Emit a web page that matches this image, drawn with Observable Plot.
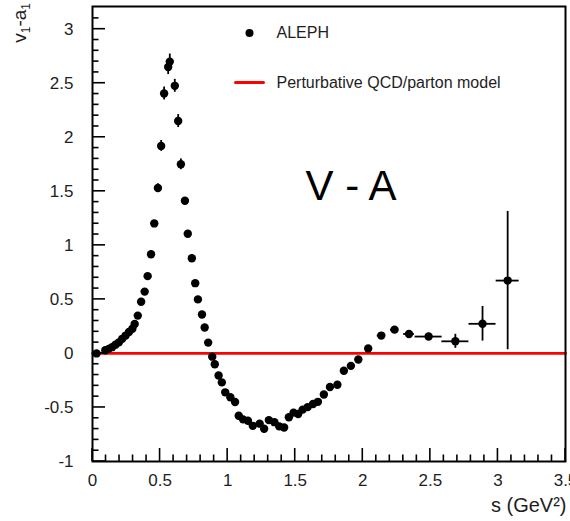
<!DOCTYPE html>
<html><head><meta charset="utf-8">
<script src="https://cdn.jsdelivr.net/npm/d3@7"></script>
<script src="https://cdn.jsdelivr.net/npm/@observablehq/plot@0.6"></script>
<style>
html,body{margin:0;padding:0;background:#fff;}
#chart{position:relative;width:570px;height:521px;overflow:hidden;}
</style></head><body><div id="chart"></div>
<script>
// ALEPH V-A spectral function
const sValues = [0.030,0.095,0.120,0.145,0.170,0.195,0.220,0.245,0.270,0.295,0.312,0.335,0.360,0.386,0.408,0.433,0.457,0.484,0.508,0.530,0.560,0.572,0.609,0.634,0.654,0.684,0.705,0.735,0.760,0.780,0.810,0.830,0.856,0.886,0.905,0.933,0.957,0.982,1.020,1.055,1.082,1.114,1.150,1.186,1.237,1.270,1.305,1.346,1.382,1.418,1.453,1.488,1.522,1.555,1.592,1.632,1.668,1.712,1.757,1.812,1.860,1.912,1.967,2.040,2.137,2.235,2.342,2.487,2.685,2.886,3.072];
const vValues = [0.000,0.030,0.042,0.058,0.080,0.102,0.135,0.165,0.198,0.228,0.272,0.350,0.478,0.572,0.715,0.918,1.203,1.530,1.920,2.405,2.650,2.700,2.476,2.150,1.750,1.413,1.108,0.880,0.650,0.500,0.360,0.240,0.100,-0.030,-0.100,-0.204,-0.268,-0.360,-0.405,-0.450,-0.577,-0.610,-0.623,-0.670,-0.650,-0.697,-0.617,-0.636,-0.675,-0.685,-0.590,-0.548,-0.560,-0.520,-0.497,-0.468,-0.448,-0.380,-0.310,-0.290,-0.160,-0.115,-0.056,0.045,0.165,0.220,0.180,0.156,0.112,0.274,0.674];
const vErrors = [0,0,0,0,0,0,0,0,0,0,0,0,0,0,0,0,0,0.04,0.05,0.06,0.07,0.07,0.06,0.06,0.05,0.03,0,0,0,0,0,0,0,0,0,0,0,0,0,0,0,0,0,0,0,0,0,0,0,0,0,0,0,0,0,0,0,0,0,0,0,0,0,0.02,0.02,0.02,0.025,0.03,0.065,0.16,0.64];
const sErrors = [0,0,0,0,0,0,0,0,0,0,0,0,0,0,0,0,0,0,0,0,0,0,0,0,0,0,0,0,0,0,0,0,0,0,0,0,0,0,0,0,0,0,0,0,0,0,0,0,0,0,0,0,0,0,0,0,0,0,0,0,0,0,0,0.02,0.03,0.03,0.04,0.10,0.10,0.10,0.085];

// Perturbative QCD / parton model prediction: v1 - a1 = 0
const pqcdS = [0, 3.5];
const pqcdV = [0, 0];

// axes
const xMajorTicks = [0, 0.5, 1, 1.5, 2, 2.5, 3, 3.5];
const yMajorTicks = [-1, -0.5, 0, 0.5, 1, 1.5, 2, 2.5, 3];
const xMinorTicks = [0.1,0.2,0.3,0.4,0.6,0.7,0.8,0.9,1.1,1.2,1.3,1.4,1.6,1.7,1.8,1.9,2.1,2.2,2.3,2.4,2.6,2.7,2.8,2.9,3.1,3.2,3.3,3.4];
const yMinorTicks = [-0.9,-0.8,-0.7,-0.6,-0.4,-0.3,-0.2,-0.1,0.1,0.2,0.3,0.4,0.6,0.7,0.8,0.9,1.1,1.2,1.3,1.4,1.6,1.7,1.8,1.9,2.1,2.2,2.3,2.4,2.6,2.7,2.8,2.9,3.1];
const xDomain = [0, 3.5];
const yDomain = [-1, 3.21];
const legendLabels = ["ALEPH", "Perturbative QCD/parton model"];
const annotation = "V - A";
const xTitle = "s (GeV²)";

const aleph = sValues.map((s, i) => ({s, v: vValues[i], ey: vErrors[i], ex: sErrors[i]}));
const pqcd = pqcdS.map((s, i) => ({s, v: pqcdV[i]}));

const FONT = "'Liberation Sans', Arial, Helvetica, sans-serif";
const TXT = "#1e1e1e";
const W = 570, H = 521, ML = 92, MR = 5, MT = 6, MB = 60;
const FW = W - ML - MR, FH = H - MT - MB;
const MAJ = 13, MIN = 6.5;
const stick = {draw(ctx, l) { ctx.moveTo(0, 0); ctx.lineTo(0, -l); }};

const plot = Plot.plot({
  width: W, height: H,
  marginLeft: ML, marginRight: MR, marginTop: MT, marginBottom: MB,
  style: {fontFamily: FONT, fontSize: "17px", background: "white", overflow: "visible"},
  x: {domain: xDomain, label: null, axis: null},
  y: {domain: yDomain, label: null, axis: null},
  marks: [
    // tick labels
    Plot.text(xMajorTicks, {x: d => d, frameAnchor: "bottom", dy: 19, text: d => String(d), textAnchor: "middle", lineAnchor: "middle", fontSize: 17, fill: TXT}),
    Plot.text(yMajorTicks, {y: d => d, frameAnchor: "left", dx: -19, text: d => String(d), textAnchor: "end", lineAnchor: "middle", fontSize: 17, fill: TXT}),
    Plot.line(pqcd, {x: "s", y: "v", stroke: "#ff0000", strokeWidth: 2.6}),
    Plot.ruleX(aleph.filter(d => d.ey > 0), {x: "s", y1: d => d.v - d.ey, y2: d => d.v + d.ey, stroke: "black", strokeWidth: 1.8}),
    Plot.ruleY(aleph.filter(d => d.ex > 0), {y: "v", x1: d => d.s - d.ex, x2: d => d.s + d.ex, stroke: "black", strokeWidth: 1.8}),
    Plot.dot(aleph, {x: "s", y: "v", r: 4.2, fill: "black"}),
    Plot.frame({stroke: "black", strokeWidth: 2}),
    // legend
    Plot.dot([legendLabels[0]], {frameAnchor: "top-left", dx: 157, dy: 26.5, r: 4, fill: "black"}),
    Plot.text([legendLabels[0]], {frameAnchor: "top-left", dx: 184, dy: 26.5, text: d => d, textAnchor: "start", lineAnchor: "middle", fontSize: 16, fill: TXT}),
    Plot.vector([legendLabels[1]], {frameAnchor: "top-left", dx: 143, dy: 76, length: 28, rotate: 90, anchor: "start", stroke: "#ff0000", strokeWidth: 3, shape: stick}),
    Plot.text([legendLabels[1]], {frameAnchor: "top-left", dx: 184, dy: 76, text: d => d, textAnchor: "start", lineAnchor: "middle", fontSize: 16, fill: TXT}),
    // annotation
    Plot.text([annotation], {frameAnchor: "top-left", dx: 213, dy: 180, text: d => d, textAnchor: "start", lineAnchor: "middle", fontSize: 42, fill: "black"}),
    // x title
    Plot.text([xTitle], {frameAnchor: "bottom-right", dx: 1, dy: 44, text: d => d, textAnchor: "end", lineAnchor: "middle", fontSize: 20, fill: TXT})
  ]
});

const svg = d3.select(plot);

// inward ticks, positioned with Plot's own scales
const xs = plot.scale("x"), ys = plot.scale("y");
const tg = svg.append("g").attr("stroke", "black").attr("stroke-width", 1.6).attr("fill", "none");
const bottom = H - MB;
xMinorTicks.forEach(v => { const px = xs.apply(v); tg.append("line").attr("x1", px).attr("x2", px).attr("y1", bottom).attr("y2", bottom - MIN); });
xMajorTicks.forEach(v => { const px = xs.apply(v); tg.append("line").attr("x1", px).attr("x2", px).attr("y1", bottom).attr("y2", bottom - MAJ); });
yMinorTicks.forEach(v => { const py = ys.apply(v); tg.append("line").attr("x1", ML).attr("x2", ML + MIN).attr("y1", py).attr("y2", py); });
yMajorTicks.forEach(v => { const py = ys.apply(v); tg.append("line").attr("x1", ML).attr("x2", ML + MAJ).attr("y1", py).attr("y2", py); });

// y title with subscripts
const t = svg.append("text")
  .attr("transform", "translate(26,3) rotate(-90)")
  .attr("text-anchor", "end")
  .attr("fill", TXT)
  .style("font-family", FONT)
  .style("font-size", "19px");
t.append("tspan").text("v");
t.append("tspan").attr("font-size", 12).attr("dy", 4).text("1");
t.append("tspan").attr("dy", -4).text("-a");
t.append("tspan").attr("font-size", 12).attr("dy", 4).text("1");

document.getElementById("chart").appendChild(plot);
</script>
</body></html>
